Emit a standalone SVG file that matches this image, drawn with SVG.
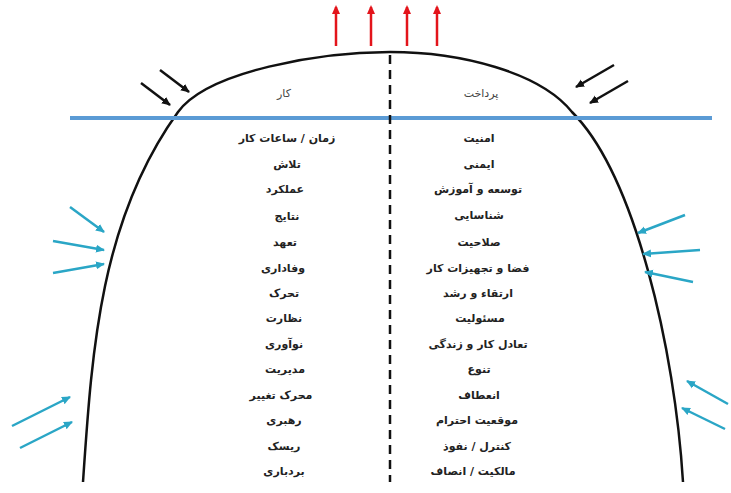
<svg xmlns="http://www.w3.org/2000/svg" width="731" height="493" viewBox="0 0 731 493">
<defs>
<marker id="ar" markerWidth="10" markerHeight="10" refX="7" refY="5" orient="auto" markerUnits="userSpaceOnUse"><path d="M0,1 L9,5 L0,9 Z" fill="#e3141b"/></marker>
<marker id="ab" markerWidth="10" markerHeight="10" refX="8" refY="5" orient="auto" markerUnits="userSpaceOnUse"><path d="M0,1 L9,5 L0,9 Z" fill="#111"/></marker>
<marker id="ac" markerWidth="10" markerHeight="10" refX="8" refY="5" orient="auto" markerUnits="userSpaceOnUse"><path d="M0,1 L9,5 L0,9 Z" fill="#2aa6c6"/></marker>
<style>
.t{font-family:"DejaVu Sans","Noto Sans",sans-serif;font-size:11px;font-weight:bold;fill:#222;text-anchor:middle;direction:rtl;letter-spacing:0.4px}
.h{font-weight:normal;fill:#444;letter-spacing:2px}
.red{stroke:#e3141b;stroke-width:2.5;fill:none}
.blk{stroke:#111;stroke-width:2.5;fill:none}
.cy{stroke:#2aa6c6;stroke-width:2.5;fill:none}
</style>
</defs>
<rect width="731" height="493" fill="#fff"/>
<g id="curve">
<path d="M83 482 C92 350 100 220 178 112 C208 71 320 52 390 52 C460 52 540 72 572 112 C635 175 675 350 683 482" fill="none" stroke="#111" stroke-width="2.5"/>
</g>
<g id="baseline"><line x1="70" y1="118" x2="712" y2="118" stroke="#5b9bd5" stroke-width="4"/></g>
<g id="divider"><line x1="390" y1="55" x2="390" y2="482" stroke="#111" stroke-width="2.5" stroke-dasharray="9 6"/></g>
<g id="connectors">
<line class="red" x1="336" y1="46" x2="336" y2="7" marker-end="url(#ar)"/>
<line class="red" x1="371" y1="46" x2="371" y2="7" marker-end="url(#ar)"/>
<line class="red" x1="407" y1="46" x2="407" y2="7" marker-end="url(#ar)"/>
<line class="red" x1="437" y1="46" x2="437" y2="7" marker-end="url(#ar)"/>
<line class="blk" x1="141" y1="83" x2="170" y2="105" marker-end="url(#ab)"/>
<line class="blk" x1="160" y1="70" x2="189" y2="92" marker-end="url(#ab)"/>
<line class="blk" x1="614" y1="65" x2="576" y2="87" marker-end="url(#ab)"/>
<line class="blk" x1="628" y1="81" x2="590" y2="103" marker-end="url(#ab)"/>
<line class="cy" x1="70" y1="207" x2="104" y2="232" marker-end="url(#ac)"/>
<line class="cy" x1="53" y1="241" x2="104" y2="250" marker-end="url(#ac)"/>
<line class="cy" x1="53" y1="273" x2="104" y2="264" marker-end="url(#ac)"/>
<line class="cy" x1="12" y1="426" x2="70" y2="397" marker-end="url(#ac)"/>
<line class="cy" x1="20" y1="448" x2="72" y2="422" marker-end="url(#ac)"/>
<line class="cy" x1="685" y1="215" x2="638" y2="233" marker-end="url(#ac)"/>
<line class="cy" x1="700" y1="250" x2="643" y2="254" marker-end="url(#ac)"/>
<line class="cy" x1="693" y1="282" x2="645" y2="272" marker-end="url(#ac)"/>
<line class="cy" x1="728" y1="404" x2="687" y2="381" marker-end="url(#ac)"/>
<line class="cy" x1="725" y1="429" x2="682" y2="408" marker-end="url(#ac)"/>
</g>
<g id="work">
<text class="t h" x="284" y="97">کار</text>
<text class="t" x="287" y="142">زمان / ساعات کار</text>
<text class="t" x="287" y="168">تلاش</text>
<text class="t" x="285" y="193">عملکرد</text>
<text class="t" x="287" y="220">نتایج</text>
<text class="t" x="285" y="246">تعهد</text>
<text class="t" x="283" y="272">وفاداری</text>
<text class="t" x="284" y="297">تحرک</text>
<text class="t" x="284" y="322">نظارت</text>
<text class="t" x="284" y="348">نوآوری</text>
<text class="t" x="285" y="373">مدیریت</text>
<text class="t" x="281" y="399">محرک تغییر</text>
<text class="t" x="284" y="424">رهبری</text>
<text class="t" x="284" y="450">ریسک</text>
<text class="t" x="284" y="475">بردباری</text>
</g>
<g id="pay">
<text class="t h" x="481" y="97">پرداخت</text>
<text class="t" x="479" y="142">امنیت</text>
<text class="t" x="479" y="168">ایمنی</text>
<text class="t" x="478" y="193">توسعه و آموزش</text>
<text class="t" x="479" y="219">شناسایی</text>
<text class="t" x="479" y="246">صلاحیت</text>
<text class="t" x="478" y="272">فضا و تجهیزات کار</text>
<text class="t" x="478" y="297">ارتقاء و رشد</text>
<text class="t" x="480" y="322">مسئولیت</text>
<text class="t" x="478" y="348">تعادل کار و زندگی</text>
<text class="t" x="479" y="373">تنوع</text>
<text class="t" x="479" y="399">انعطاف</text>
<text class="t" x="477" y="424">موقعیت احترام</text>
<text class="t" x="477" y="450">کنترل / نفوذ</text>
<text class="t" x="473" y="475">مالکیت / انصاف</text>
</g>
</svg>
